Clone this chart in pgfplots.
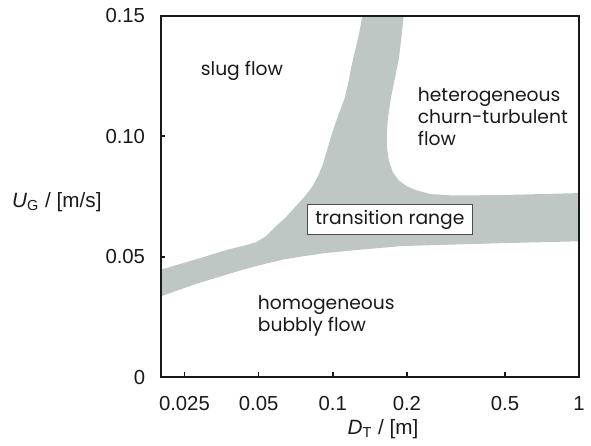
\documentclass[border=0pt]{standalone}
\usepackage{fontspec}
\setmainfont{Poppins}
\newfontfamily\arialfont{Liberation Sans}
\usepackage{pgfplots}
\pgfplotsset{compat=1.18}
\definecolor{band}{RGB}{191,199,197}
\definecolor{ink}{RGB}{25,25,25}

\begin{document}
\fontsize{9.5}{11.2}\selectfont
\begin{tikzpicture}
\begin{axis}[
  scale only axis, width=212.5pt, height=183.5pt,
  xmode=log, xmin=0.02, xmax=1, ymin=0, ymax=0.15,
  xtick={0.025,0.05,0.1,0.2,0.5,1},
  xticklabels={0.025,0.05,0.1,0.2,0.5,1},
  ytick={0,0.05,0.1,0.15},
  yticklabels={0,0.05,0.10,0.15},
  minor tick num=0, minor xtick={},
  tick pos=left, tick align=inside, major tick length=2.5pt,
  axis line style={line width=1pt, ink},
  tick style={line width=0.9pt, ink},
  /pgf/number format/assume math mode=true,
  tick label style={font=\arialfont\fontsize{10.3}{12}\selectfont, text=ink},
  xticklabel style={yshift=-6.5pt},
  yticklabel style={xshift=-4.5pt},
  clip=false, axis on top,
]
% transition range (grey band)
\addplot[fill=band, draw=none] coordinates {
  (0.02,0.0446) (0.02805,0.0490) (0.0380,0.0531) (0.04446,0.0548)
  (0.04875,0.0560) (0.05346,0.0584) (0.05861,0.0625) (0.06427,0.0662)
  (0.07047,0.0707) (0.07727,0.0752) (0.08241,0.0789) (0.08710,0.0834)
  (0.09120,0.0883) (0.09550,0.0952) (0.1000,0.1022) (0.1057,0.1091)
  (0.1117,0.1157) (0.1159,0.1226) (0.1191,0.1291) (0.1236,0.1361)
  (0.1282,0.1430) (0.1318,0.15)
  (0.1941,0.15) (0.1905,0.1418) (0.1854,0.1320) (0.1786,0.1238)
  (0.1722,0.1157) (0.1675,0.1075) (0.1660,0.1014) (0.1660,0.0952)
  (0.1690,0.0899) (0.1754,0.0850) (0.1854,0.0817) (0.1995,0.0793)
  (0.2168,0.0777) (0.2489,0.0760) (0.3076,0.0754) (0.4875,0.0756)
  (1,0.0764)
  (1,0.0564) (0.4742,0.0556) (0.1888,0.0544) (0.1225,0.0527)
  (0.09290,0.0515) (0.0773,0.0503) (0.06427,0.0490) (0.0550,0.0474)
  (0.04446,0.0450) (0.0380,0.0429) (0.02805,0.0388) (0.02,0.0335)
} -- cycle;

\node[text=ink] at (axis cs:0.0428,0.1271) {slug flow};
\node[text=ink, anchor=west, align=left, inner sep=0pt] at (axis cs:0.2208,0.1083)
  {heterogeneous\\churn-turbulent\\flow};
\node[text=ink, anchor=west, align=left, inner sep=0pt] at (axis cs:0.0495,0.0253)
  {homogeneous\\bubbly flow};
\node[text=ink, draw=black!70, line width=0.6pt, fill=white,
  minimum width=84pt, minimum height=15pt, inner sep=1pt] at (axis cs:0.1706,0.0654)
  {transition range};

\node[text=ink, font=\arialfont\fontsize{10.5}{12}\selectfont] at (axis cs:0.16,0) [yshift=-26.5pt]
  {\textit{D}\textsubscript{T} / [m]};
\node[text=ink, anchor=west, inner sep=0pt, font=\arialfont\fontsize{10.5}{12}\selectfont]
  at (rel axis cs:0,0.485) [xshift=-75.5pt] {\textit{U}\textsubscript{G} / [m/s]};
\end{axis}
\path (current axis.south west) ++(-81.5pt,-31.5pt) coordinate (bl);
\path (current axis.north east) ++(1.5pt,8pt) coordinate (tr);
\path (bl) rectangle (tr);
\end{tikzpicture}
\end{document}
